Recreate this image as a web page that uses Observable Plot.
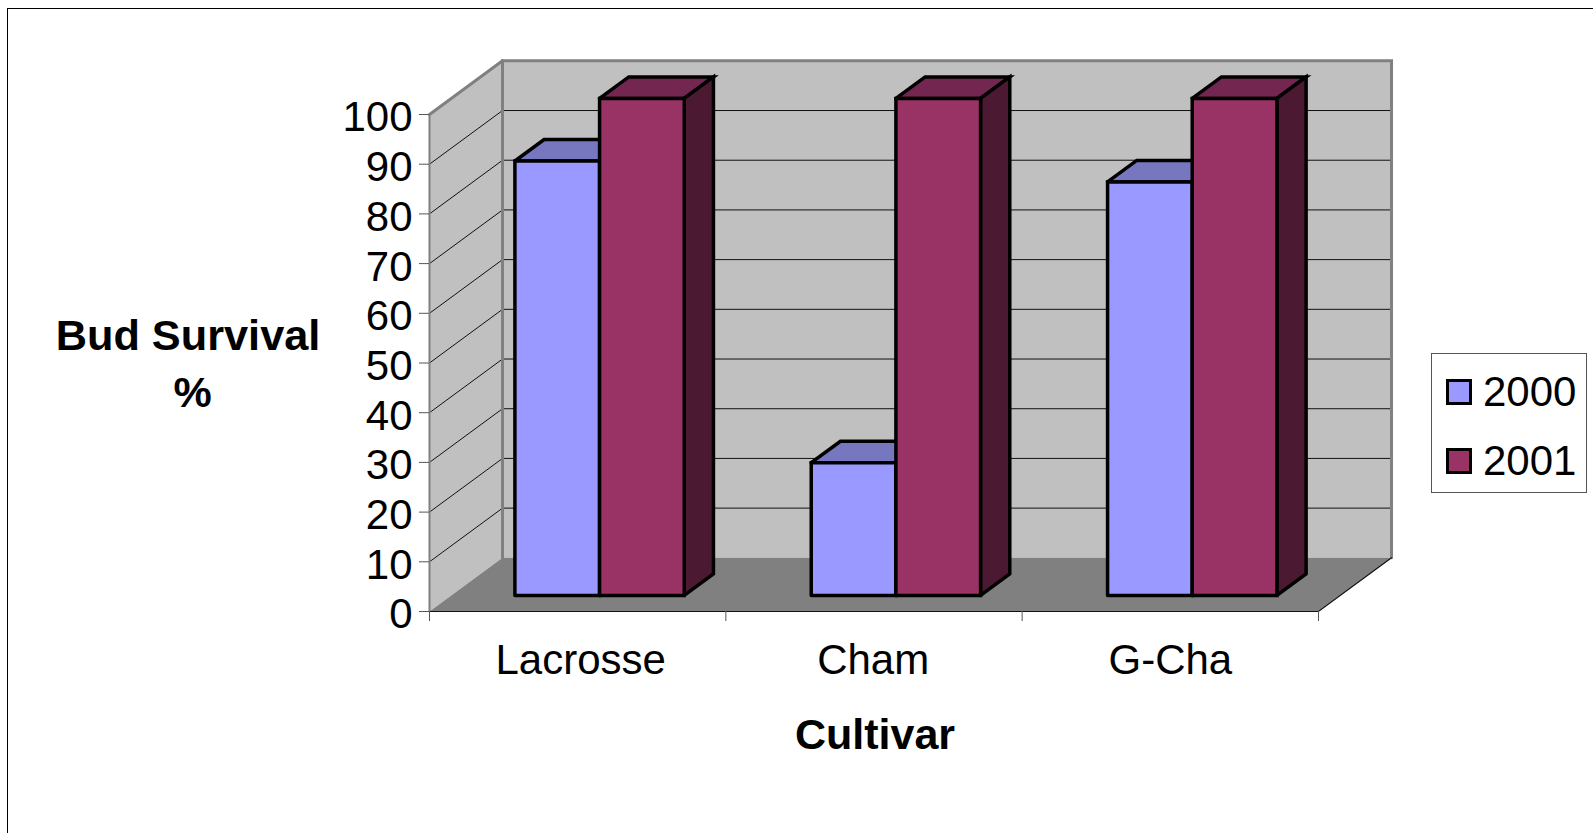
<!DOCTYPE html>
<html>
<head>
<meta charset="utf-8">
<script src="https://cdn.jsdelivr.net/npm/d3@7"></script>
<script src="https://cdn.jsdelivr.net/npm/@observablehq/plot@0.6"></script>
<style>
  html, body { margin: 0; padding: 0; background: #fff; overflow: hidden; width: 1593px; height: 833px; font-family: "Liberation Sans", Arial, sans-serif; }
  #chart { position: absolute; left: 0; top: 0; }
  #chart svg { display: block; overflow: visible; background: transparent; }
  #frame { position: absolute; left: 7px; top: 8px; width: 1586px; height: 825px; box-sizing: border-box; border-top: 1.5px solid #000; border-left: 1.5px solid #000; }
  #legend { position: absolute; left: 1430.5px; top: 352.5px; width: 156.5px; height: 140px; box-sizing: border-box; border: 1px solid #555; background: #fff; color: #000; font-size: 42px; }
  .item { position: absolute; left: 14px; height: 26px; width: 135px; }
  .sw { position: absolute; left: 0; top: 0; width: 26px; height: 26px; box-sizing: border-box; border: 3.5px solid #000; }
  .lb { position: absolute; left: 37.5px; top: -11px; line-height: 48px; }
</style>
</head>
<body>
<div id="frame"></div>
<div id="chart"></div>
<div id="legend"></div>
<script>
// Data
const cultivars = ["Lacrosse", "Cham", "G-Cha"];
const years = ["2000", "2001"];
const survival2000 = [87.4, 26.7, 83.2];
const survival2001 = [100, 100, 100];
const yTicks = [0, 10, 20, 30, 40, 50, 60, 70, 80, 90, 100];
const labelPositions = [0.5, 1.487, 2.49];

// Chart-wide 3D layout, in scale units
const gapWidth = 1.5, depthX = 0.2464, depthY = 10.8, depthNear = 0.3, depthFar = 0.7;
const barW = 1 / (2 + gapWidth);
const palette = {
  "2000": {face: "#9999ff", top: "#7777c0", side: "#4c4c80"},
  "2001": {face: "#993366", top: "#732650", side: "#4c1933"}
};

// oblique projection of (category position, value, depth)
const P = (c, v, d) => ({x: c + d * depthX, y: v + d * depthY});
const poly = (pts, o) => Plot.line(pts.map(p => P(...p)), {x: "x", y: "y", strokeLinejoin: "miter", strokeMiterlimit: 4, ...o});

const marks = [];
const nCat = cultivars.length, maxV = 100;

// walls and floor
marks.push(poly([[0,0,1],[nCat,0,1],[nCat,maxV,1],[0,maxV,1],[0,0,1]], {fill: "#c0c0c0", stroke: "none"}));
marks.push(poly([[0,0,0],[0,0,1],[0,maxV,1],[0,maxV,0],[0,0,0]], {fill: "#c0c0c0", stroke: "none"}));
marks.push(poly([[0,0,0],[nCat,0,0],[nCat,0,1],[0,0,1],[0,0,0]], {fill: "#808080", stroke: "none"}));

// gridlines
for (const v of yTicks.slice(1, -1)) {
  marks.push(poly([[0,v,0],[0,v,1],[nCat,v,1]], {stroke: "#111", strokeWidth: 1}));
}

// wall borders
marks.push(poly([[0,0,0],[0,maxV,0]], {stroke: "#808080", strokeWidth: 2}));
marks.push(poly([[0,0,1],[0,maxV,1],[nCat,maxV,1],[nCat,0,1]], {stroke: "#808080", strokeWidth: 3}));
marks.push(poly([[0,maxV,0],[0,maxV,1]], {stroke: "#808080", strokeWidth: 3}));

// floor edges
marks.push(poly([[0,0,0],[nCat,0,0],[nCat,0,1]], {stroke: "#111", strokeWidth: 1.2}));

// bars
const barStroke = {stroke: "#000", strokeWidth: 3.5};
cultivars.forEach((name, i) => {
  [survival2000[i], survival2001[i]].forEach((v, s) => {
    const c = palette[years[s]];
    const a = i + gapWidth / 2 * barW + s * barW, b = a + barW;
    marks.push(poly([[a,v,depthNear],[a,v,depthFar],[b,v,depthFar],[b,v,depthNear],[a,v,depthNear]], {fill: c.top, ...barStroke}));
    marks.push(poly([[b,0,depthNear],[b,0,depthFar],[b,v,depthFar],[b,v,depthNear],[b,0,depthNear]], {fill: c.side, ...barStroke}));
    marks.push(poly([[a,0,depthNear],[b,0,depthNear],[b,v,depthNear],[a,v,depthNear],[a,0,depthNear]], {fill: c.face, ...barStroke}));
  });
});

// axes
marks.push(Plot.axisY(yTicks, {anchor: "left", tickSize: 10, tickFormat: () => "", stroke: "#555", label: null}));
marks.push(Plot.axisY(yTicks, {anchor: "left", tickSize: 0, tickPadding: 17, dy: 3.5, fontSize: 42, label: null, fill: "#000"}));
marks.push(Plot.axisX(d3.range(nCat + 1), {anchor: "bottom", tickSize: 10, tickFormat: () => "", stroke: "#555", label: null}));
marks.push(Plot.axisX(labelPositions, {anchor: "bottom", tickSize: 0, tickPadding: 33, dx: 3, fontSize: 42, label: null, fill: "#000",
  tickFormat: d => cultivars[labelPositions.indexOf(d)]}));

// axis titles
const yTitle = ["Bud Survival", "%"];
marks.push(Plot.text([yTitle[0]], {text: d => d, frameAnchor: "left", textAnchor: "middle", dx: -241.5, dy: -26.5, fontSize: 43.3, fontWeight: "bold", fill: "#000"}));
marks.push(Plot.text([yTitle[1]], {text: d => d, frameAnchor: "left", textAnchor: "middle", dx: -237, dy: 30.5, fontSize: 43, fontWeight: "bold", fill: "#000"}));
marks.push(Plot.text(["Cultivar"], {text: d => d, frameAnchor: "bottom", textAnchor: "middle", dx: 1, dy: 137, fontSize: 43, fontWeight: "bold", fill: "#000"}));

const plot = Plot.plot({
  width: 1593, height: 833,
  marginLeft: 429, marginRight: 275, marginTop: 114, marginBottom: 222,
  x: {domain: [0, nCat]},
  y: {domain: [0, maxV]},
  style: {fontFamily: '"Liberation Sans", Arial, sans-serif', background: "transparent", color: "#000"},
  marks
});
document.getElementById("chart").append(plot);

// legend
const legend = document.getElementById("legend");
years.forEach((y, i) => {
  const it = document.createElement("div");
  it.className = "item";
  it.style.top = (i === 0 ? 25 : 94) + "px";
  it.innerHTML = `<div class="sw" style="background:${palette[y].face}"></div><div class="lb">${y}</div>`;
  legend.append(it);
});
</script>
</body>
</html>
